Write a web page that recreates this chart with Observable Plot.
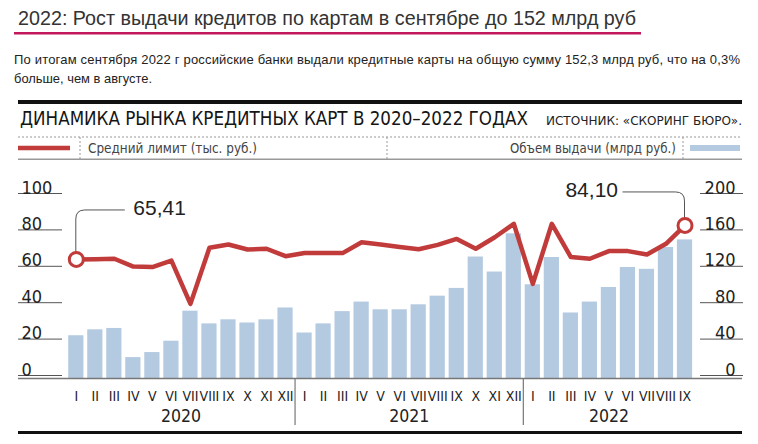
<!DOCTYPE html>
<html>
<head>
<meta charset="utf-8">
<script src="https://cdn.jsdelivr.net/npm/d3@7"></script>
<script src="https://cdn.jsdelivr.net/npm/@observablehq/plot@0.6"></script>
<style>
  body { margin: 0; background: #fff; width: 758px; height: 444px; overflow: hidden; position: relative; }
  #head { position: absolute; left: 0; top: 0; }
  #chart { position: absolute; left: 0; top: 160px; }
  .wide { font-family: "Liberation Sans", Arial, "DejaVu Sans", sans-serif; }
  .narrow { font-family: "Liberation Sans Narrow", "Arial Narrow", "DejaVu Sans Condensed", "Liberation Sans", sans-serif; }
</style>
</head>
<body>
<svg id="head" width="758" height="160" xmlns="http://www.w3.org/2000/svg">
  <text class="wide" x="18" y="25" font-size="20" fill="#333" textLength="618" lengthAdjust="spacingAndGlyphs">2022: Рост выдачи кредитов по картам в сентябре до 152 млрд руб</text>
  <rect x="14" y="32" width="627" height="2.5" fill="#c2185b"></rect>
  <text class="wide" x="14" y="64" font-size="13" fill="#222" textLength="726" lengthAdjust="spacing">По итогам сентября 2022 г российские банки выдали кредитные карты на общую сумму 152,3 млрд руб, что на 0,3%</text>
  <text class="wide" x="14" y="83" font-size="13" fill="#222" textLength="138" lengthAdjust="spacingAndGlyphs">больше, чем в августе.</text>
  <rect x="18" y="100" width="724" height="4" fill="#111"></rect>
  <text class="narrow" x="20" y="125" font-size="19" fill="#151515" textLength="508" lengthAdjust="spacingAndGlyphs">ДИНАМИКА РЫНКА КРЕДИТНЫХ КАРТ В 2020–2022 ГОДАХ</text>
  <text class="narrow" x="546" y="124.5" font-size="12.5" fill="#222" textLength="196" lengthAdjust="spacingAndGlyphs">ИСТОЧНИК: «СКОРИНГ БЮРО».</text>
  <line x1="18" x2="742" y1="137" y2="137" stroke="#999" stroke-dasharray="2,2"></line>
  <line x1="18" x2="70" y1="148" y2="148" stroke="#c13b3b" stroke-width="4.5"></line>
  <line x1="80" x2="80" y1="137" y2="160" stroke="#999" stroke-dasharray="2,2"></line>
  <text class="narrow" x="88" y="152.5" font-size="13.5" fill="#444" textLength="169" lengthAdjust="spacingAndGlyphs">Средний лимит (тыс. руб.)</text>
  <line x1="387" x2="387" y1="137" y2="160" stroke="#999" stroke-dasharray="2,2"></line>
  <text class="narrow" x="676" y="152.5" font-size="13.5" fill="#444" text-anchor="end" textLength="166" lengthAdjust="spacingAndGlyphs">Объем выдачи (млрд руб.)</text>
  <line x1="683" x2="683" y1="137" y2="160" stroke="#999" stroke-dasharray="2,2"></line>
  <rect x="690" y="145" width="50" height="6" fill="#b4cae1"></rect>
  <line x1="18" x2="742" y1="159.25" y2="159.25" stroke="#999" stroke-width="1.5"></line>
</svg>
<div id="chart"></div>
<div style="position:absolute;left:18px;top:431px;width:724px;height:3px;background:#111"></div>
<script>
// ---- data ----
const monthNames = ["I","II","III","IV","V","VI","VII","VIII","IX","X","XI","XII"];
const years = ["2020", "2021", "2022"];
const monthsInYear = [12, 12, 9];
// Объем выдачи (млрд руб.), Jan 2020 – Sep 2022
const volume = [47, 53.5, 55, 23, 28.5, 41, 74, 60, 64.5, 61, 64.5, 77.5,
                50, 60, 73.5, 84, 75.5, 75.5, 81, 90.5, 99, 133.5, 117, 159,
                103, 133, 72, 84, 100, 122, 120, 144, 152.3];
// Средний лимит (тыс. руб.)
const limit = [65.41, 65.5, 65.8, 61.5, 61.2, 64.8, 41, 71.8, 73.6, 70.9, 71.3, 67.2,
               69, 68.9, 68.9, 74.9, 73.6, 72.3, 71, 73.4, 76.7, 71.3, 77.6, 85,
               52, 85, 66.7, 65.8, 70, 70, 68.1, 74, 84.10];
const leftTicks = [0, 20, 40, 60, 80, 100];
const rightTicks = [0, 40, 80, 120, 160, 200];
const calloutLabels = ["65,41", "84,10"];

// ---- build table ----
const rows = [];
years.forEach((y, yi) => {
  for (let m = 0; m < monthsInYear[yi]; m++) {
    const i = rows.length;
    rows.push({i, year: y, month: monthNames[m], vol: volume[i], lim: limit[i]});
  }
});
const yearInfo = years.map(y => {
  const idx = rows.filter(r => r.year === y).map(r => r.i);
  return {year: y, mid: (d3.min(idx) + d3.max(idx)) / 2, end: d3.max(idx) + 0.5};
});
const separators = yearInfo.slice(0, -1).map(d => d.end);
const first = rows[0], last = rows[rows.length - 1];
const callouts = [
  {...first, label: calloutLabels[0]},
  {...last, label: calloutLabels[1]}
];

const RED = "#c13b3b";
const BLUE = "#b4cae1";
const NARROW = '"Liberation Sans Narrow", "Arial Narrow", "DejaVu Sans Condensed", "Liberation Sans", sans-serif';
const WIDE = '"Liberation Sans", Arial, sans-serif';

function leader(d, xEnd, yTop, r) {
  return (index, {x, y}) => {
    const x0 = x(d.i), yc = y(d.lim);
    const y0 = yc - 7, yt = yc + yTop, xe = x0 + xEnd, s = Math.sign(xEnd);
    const p = `M${x0},${y0}V${yt + r}Q${x0},${yt} ${x0 + s * r},${yt}H${xe}`;
    return d3.create("svg:path").attr("d", p).attr("fill", "none")
      .attr("stroke", "#555").attr("stroke-width", 1).node();
  };
}

const chart = Plot.plot({
  width: 758,
  height: 284,
  marginLeft: 18,
  marginRight: 16,
  marginTop: 36,
  marginBottom: 66,
  x: {type: "linear", domain: [0, 32], range: [75.8, 684.5]},
  y: {domain: [0, 100]},
  style: {fontFamily: NARROW, background: "transparent", color: "#222", overflow: "visible"},
  marks: [
    Plot.rectY(rows, {x1: d => d.i - 0.4, x2: d => d.i + 0.4, y1: 0, y2: d => d.vol / 2, fill: BLUE}),
    Plot.ruleY([0], {stroke: "#777", strokeWidth: 1.5}),
    Plot.line(rows, {x: "i", y: "lim", stroke: RED, strokeWidth: 4.5}),
    leader(first, 49, -49, 9),
    leader(last, -62, -33, 9),
    Plot.dot(callouts, {x: "i", y: "lim", r: 7, stroke: RED, strokeWidth: 3, fill: "white"}),
    Plot.text([callouts[0]], {x: "i", y: "lim", text: "label", dx: 57, dy: -51, textAnchor: "start", fontSize: 21, fontFamily: WIDE, fill: "#222"}),
    Plot.text([callouts[1]], {x: "i", y: "lim", text: "label", dx: -67, dy: -35, textAnchor: "end", fontSize: 21, fontFamily: WIDE, fill: "#222"}),
    Plot.axisY({anchor: "left", ticks: leftTicks, tickSize: -44, tickPadding: 41, textAnchor: "start",
      lineAnchor: "bottom", dy: -3, fontSize: 18, stroke: "#555", fill: "#222", label: null}),
    Plot.axisY({anchor: "right", ticks: rightTicks.map(v => v / 2), tickFormat: v => String(v * 2),
      tickSize: -43, tickPadding: 36, textAnchor: "end", lineAnchor: "bottom", dy: -3, fontSize: 18,
      stroke: "#555", fill: "#222", label: null}),
    Plot.axisX({ticks: rows.map(r => r.i), tickFormat: i => rows[i].month, tickSize: 0, tickPadding: 13,
      fontSize: 14, fill: "#222", label: null}),
    Plot.axisX({ticks: yearInfo.map(d => d.mid), tickFormat: v => yearInfo.find(d => d.mid === v).year,
      tickSize: 0, tickPadding: 31, fontSize: 17.5, fill: "#222", label: null}),
    Plot.axisX({ticks: separators, tickFormat: () => "", tickSize: 47, stroke: "#777", strokeWidth: 1.2, label: null})
  ]
});
document.getElementById("chart").appendChild(chart);
</script>
</body>
</html>
